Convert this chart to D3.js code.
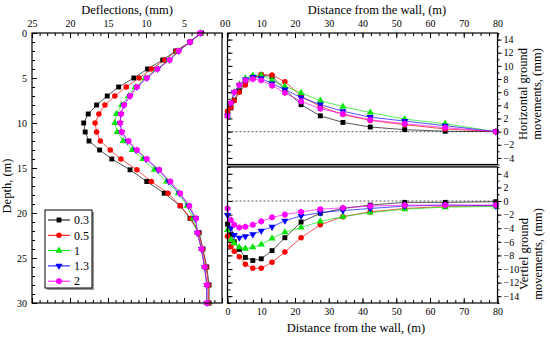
<!DOCTYPE html>
<html>
<head>
<meta charset="utf-8">
<script src="https://cdn.jsdelivr.net/npm/d3@7"></script>
<style>
  body { margin: 0; background: #fff; }
  text { font-family: "Liberation Serif", "Times New Roman", serif; fill: #000; }
</style>
</head>
<body>
<svg width="550" height="338"></svg>
<script>
// series labels and colours
var seriesNames = ["0.3", "0.5", "1", "1.3", "2"];
var colors = ["#000000", "#ff0000", "#00e600", "#0000ff", "#ff00ff"];

// left panel: wall deflection vs depth
var depth = [0, 1, 2, 3, 4, 5, 6, 7, 8, 9, 10, 11, 12, 13, 14, 15.2, 16.5, 17.8, 19.2, 20.6, 22.2, 24, 26, 28, 30];
var defl03 = [2.7, 4.2, 6.1, 7.8, 9.8, 11.6, 13.6, 15.1, 16.5, 17.6, 18.2, 18.0, 17.5, 16.1, 14.5, 12.1, 9.9, 7.6, 5.5, 4.2, 3.0, 2.5, 2.0, 1.7, 1.7];
var defl05 = [2.7, 4.2, 6.0, 7.5, 9.3, 10.9, 12.6, 14.1, 15.4, 16.2, 16.7, 16.5, 16.0, 14.7, 13.3, 11.2, 9.3, 7.1, 5.5, 4.1, 3.1, 2.55, 2.1, 1.8, 1.8];
var defl1 = [2.8, 4.2, 5.8, 7.0, 8.6, 10.1, 11.4, 12.3, 13.2, 13.9, 14.1, 13.8, 13.0, 11.8, 10.4, 8.9, 7.3, 5.75, 4.6, 3.8, 3.25, 2.7, 2.3, 2.0, 2.0];
var defl13 = [2.8, 4.2, 5.7, 6.9, 8.5, 9.9, 11.2, 12.1, 12.9, 13.3, 13.4, 13.2, 12.4, 11.3, 10.0, 8.4, 7.0, 5.6, 4.4, 3.5, 3.25, 2.7, 2.3, 2.0, 2.0];
var defl2 = [2.9, 4.2, 5.7, 6.9, 8.5, 9.9, 11.2, 12.1, 12.9, 13.3, 13.4, 13.2, 12.3, 11.2, 9.9, 8.25, 6.8, 5.5, 4.3, 3.4, 3.25, 2.7, 2.3, 2.0, 2.0];

// right panels: ground movements vs distance from the wall
var dist = [0, 1, 2, 3.5, 5.3, 7.5, 10, 13.2, 17, 21.8, 27.5, 34.2, 42.3, 52.5, 64.5, 79.5];
var hor03 = [2.8, 3.6, 4.8, 6.2, 7.5, 8.3, 8.6, 8.4, 6.4, 4.1, 2.4, 1.4, 0.7, 0.3, 0.05, 0];
var hor05 = [3.1, 3.7, 4.7, 6.0, 7.1, 8.1, 8.7, 8.6, 7.6, 5.4, 3.8, 2.6, 1.7, 1.05, 0.4, 0];
var hor1 = [2.4, 4.3, 6.0, 7.2, 8.1, 8.5, 8.6, 7.8, 6.9, 5.9, 4.7, 3.8, 2.9, 1.9, 1.2, 0];
var hor13 = [2.4, 4.3, 6.0, 7.1, 7.9, 8.3, 8.1, 7.3, 6.4, 5.2, 4.1, 3.1, 2.2, 1.6, 0.9, 0];
var hor2 = [2.4, 4.35, 6.0, 7.1, 7.8, 8.0, 7.8, 7.0, 5.9, 4.6, 3.5, 2.7, 1.8, 1.2, 0.6, 0];

var ver03 = [-3.4, -4.9, -6.0, -7.1, -8.3, -8.75, -8.5, -7.3, -5.4, -3.1, -1.8, -1.1, -0.6, -0.2, -0.2, -0.1];
var ver05 = [-5.2, -6.7, -7.4, -8.2, -9.3, -9.9, -9.9, -9.0, -7.5, -5.4, -3.5, -2.3, -1.6, -1.1, -0.8, -0.7];
var ver1 = [-4.25, -5.7, -6.2, -6.8, -7.0, -6.8, -6.4, -5.5, -4.6, -3.9, -3.0, -2.3, -1.7, -1.2, -0.9, -0.8];
var ver13 = [-2.05, -4.0, -5.0, -5.4, -5.2, -4.9, -4.4, -3.8, -2.9, -2.2, -1.7, -1.4, -1.1, -0.75, -0.6, -0.7];
var ver2 = [-1.1, -2.8, -3.5, -3.9, -3.8, -3.5, -3.0, -2.4, -2.0, -1.6, -1.2, -1.0, -0.75, -0.6, -0.6, -0.6];

var deflSeries = [defl03, defl05, defl1, defl13, defl2];
var horSeries = [hor03, hor05, hor1, hor13, hor2];
var verSeries = [ver03, ver05, ver1, ver13, ver2];

var svg = d3.select("svg");

// hexagon marker for the last series
var symbolHex = {
  draw: function (ctx, size) {
    var r = Math.sqrt(size / 2.6);
    for (var i = 0; i < 6; i++) {
      var a = Math.PI / 6 + i * Math.PI / 3;
      if (i === 0) ctx.moveTo(r * Math.cos(a), r * Math.sin(a));
      else ctx.lineTo(r * Math.cos(a), r * Math.sin(a));
    }
    ctx.closePath();
  }
};
var symbolTypes = [d3.symbolSquare, d3.symbolCircle, d3.symbolTriangle, d3.symbolTriangle, symbolHex];
var symbolSizes = [24, 24, 22, 22, 28];
function marker(sel, i) {
  sel.attr("d", d3.symbol().type(symbolTypes[i]).size(symbolSizes[i])())
    .attr("fill", colors[i]);
  return sel;
}
function markerTransform(i, px, py) {
  return "translate(" + px + "," + py + ")" + (i === 3 ? "rotate(180)" : "");
}

// scales
var xDefl = d3.scaleLinear().domain([25, 0]).range([32, 222]);
var yDepth = d3.scaleLinear().domain([0, 30]).range([33, 303]);
var xDist = d3.scaleLinear().domain([0, 80]).range([227.5, 497.5]);
var yHor = d3.scaleLinear().domain([-5, 15]).range([164.5, 33]);
var yVer = d3.scaleLinear().domain([-15, 5]).range([303, 167]);

function styleAxis(g) {
  g.select(".domain").remove();
  g.attr("font-family", "Liberation Serif, serif");
  g.selectAll("line").attr("stroke", "#000");
  g.selectAll("text").style("font-size", "10px");
  return g;
}
function addAxis(axis, tx, ty) {
  return svg.append("g").attr("transform", "translate(" + tx + "," + ty + ")").call(axis).call(styleAxis);
}
function range(a, b, s) { return d3.range(a, b + s / 2, s); }

// ---------- left panel ----------
addAxis(d3.axisTop(xDefl).tickValues(range(0, 25, 5)).tickSize(-5).tickPadding(6), 0, 33);
addAxis(d3.axisTop(xDefl).tickValues(range(0, 25, 1)).tickSize(-3).tickFormat(""), 0, 33);
addAxis(d3.axisBottom(xDefl).tickValues(range(0, 25, 5)).tickSize(-5).tickFormat(""), 0, 303);
addAxis(d3.axisBottom(xDefl).tickValues(range(0, 25, 1)).tickSize(-3).tickFormat(""), 0, 303);
addAxis(d3.axisLeft(yDepth).tickValues(range(0, 30, 5)).tickSize(-5).tickPadding(5), 32, 0);
addAxis(d3.axisLeft(yDepth).tickValues(range(0, 30, 1)).tickSize(-3).tickFormat(""), 32, 0);

var lineDefl = d3.line().x(function (d) { return xDefl(d[0]); }).y(function (d) { return yDepth(d[1]); });
deflSeries.forEach(function (s, i) {
  var pts = s.map(function (v, k) { return [v, depth[k]]; });
  svg.append("path").attr("d", lineDefl(pts)).attr("fill", "none")
    .attr("stroke", colors[i]).attr("stroke-width", 0.9).attr("stroke-opacity", 0.75);
});
deflSeries.forEach(function (s, i) {
  s.forEach(function (v, k) {
    svg.append("path").call(marker, i).attr("transform", markerTransform(i, xDefl(v), yDepth(depth[k])));
  });
});
svg.append("rect").attr("x", 32).attr("y", 33).attr("width", 190).attr("height", 270)
  .attr("fill", "none").attr("stroke", "#000").attr("stroke-width", 1.2);

// legend
svg.append("rect").attr("x", 47).attr("y", 212).attr("width", 47).attr("height", 78).attr("fill", "#999");
svg.append("rect").attr("x", 45).attr("y", 210).attr("width", 47).attr("height", 78)
  .attr("fill", "#fff").attr("stroke", "#000").attr("stroke-width", 1);
seriesNames.forEach(function (name, i) {
  var ly = 220 + i * 15.3;
  svg.append("line").attr("x1", 48).attr("x2", 70).attr("y1", ly).attr("y2", ly)
    .attr("stroke", colors[i]).attr("stroke-width", 1);
  svg.append("path").call(marker, i).attr("transform", markerTransform(i, 59, ly));
  svg.append("text").attr("x", 74).attr("y", ly).attr("dy", "0.35em")
    .style("font-size", "12px").text(name);
});

// ---------- right panels ----------
// top panel (horizontal)
addAxis(d3.axisTop(xDist).tickValues(range(0, 80, 10)).tickSize(-5).tickPadding(6), 0, 33);
addAxis(d3.axisTop(xDist).tickValues(range(0, 80, 2.5)).tickSize(-3).tickFormat(""), 0, 33);
addAxis(d3.axisLeft(yHor).tickValues(range(-4, 14, 2)).tickSize(-5).tickFormat(""), 227.5, 0);
addAxis(d3.axisLeft(yHor).tickValues(range(-5, 15, 1)).tickSize(-3).tickFormat(""), 227.5, 0);
addAxis(d3.axisRight(yHor).tickValues(range(-4, 14, 2)).tickSize(4).tickPadding(2), 497.5, 0);
addAxis(d3.axisRight(yHor).tickValues(range(-5, 15, 1)).tickSize(2).tickFormat(""), 497.5, 0);

// bottom panel (vertical)
addAxis(d3.axisBottom(xDist).tickValues(range(0, 80, 10)).tickSize(-5).tickPadding(5), 0, 303);
addAxis(d3.axisBottom(xDist).tickValues(range(0, 80, 2.5)).tickSize(-3).tickFormat(""), 0, 303);
addAxis(d3.axisLeft(yVer).tickValues(range(-14, 4, 2)).tickSize(-5).tickFormat(""), 227.5, 0);
addAxis(d3.axisLeft(yVer).tickValues(range(-15, 5, 1)).tickSize(-3).tickFormat(""), 227.5, 0);
addAxis(d3.axisRight(yVer).tickValues(range(-14, 4, 2)).tickSize(4).tickPadding(2), 497.5, 0);
addAxis(d3.axisRight(yVer).tickValues(range(-15, 5, 1)).tickSize(2).tickFormat(""), 497.5, 0);

// zero reference lines
[[yHor, 0], [yVer, 0]].forEach(function (p) {
  svg.append("line").attr("x1", xDist(0)).attr("x2", xDist(80))
    .attr("y1", p[0](p[1])).attr("y2", p[0](p[1]))
    .attr("stroke", "#444").attr("stroke-width", 0.9).attr("stroke-dasharray", "2,2");
});

function drawPanel(series, yScale) {
  var ln = d3.line().x(function (d, k) { return xDist(dist[k]); }).y(function (d) { return yScale(d); });
  series.forEach(function (s, i) {
    svg.append("path").attr("d", ln(s)).attr("fill", "none")
      .attr("stroke", colors[i]).attr("stroke-width", 0.9).attr("stroke-opacity", 0.75);
  });
  series.forEach(function (s, i) {
    s.forEach(function (v, k) {
      svg.append("path").call(marker, i).attr("transform", markerTransform(i, xDist(dist[k]), yScale(v)));
    });
  });
}
drawPanel(horSeries, yHor);
drawPanel(verSeries, yVer);

// separator between the two right panels
svg.append("rect").attr("x", 227.5).attr("y", 164.5).attr("width", 270).attr("height", 2.5).attr("fill", "#999");
svg.append("rect").attr("x", 227.5).attr("y", 33).attr("width", 270).attr("height", 131.5)
  .attr("fill", "none").attr("stroke", "#000").attr("stroke-width", 1.2);
svg.append("rect").attr("x", 227.5).attr("y", 167).attr("width", 270).attr("height", 136)
  .attr("fill", "none").attr("stroke", "#000").attr("stroke-width", 1.2);

// ---------- titles ----------
function title(txt, x, y, rot) {
  svg.append("text").attr("transform", "translate(" + x + "," + y + ")" + (rot ? "rotate(" + rot + ")" : ""))
    .attr("text-anchor", "middle").style("font-size", "12.5px").text(txt);
}
title("Deflections, (mm)", 127, 14);
title("Distance from the wall, (m)", 377, 14);
title("Distance from the wall, (m)", 356, 332);
title("Depth, (m)", 11, 186, -90);
title("Horizontal ground", 527, 94, -90);
title("movements, (mm)", 541, 94, -90);
title("Vertiel ground", 528, 254, -90);
title("movements, (mm)", 542, 254, -90);
</script>
</body>
</html>
